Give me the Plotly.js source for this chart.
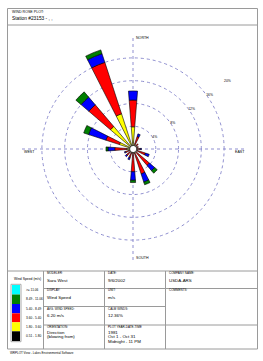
<!DOCTYPE html>
<html><head><meta charset="utf-8">
<script src="https://cdn.plot.ly/plotly-3.0.1.min.js"></script>
<style>html,body{margin:0;padding:0;background:#fff}#chart{width:263px;height:361px}</style>
</head><body><div id="chart"></div>
<script>
// ---- data (percent frequency, direction blowing from) ----
const directionNames = ['N','NNE','NE','ENE','E','ESE','SE','SSE','S','SSW','SW','WSW','W','WNW','NW','NNW'];
const directionDegrees = [0,22.5,45,67.5,90,112.5,135,157.5,180,202.5,225,247.5,270,292.5,315,337.5];
const speedClassLabels = ['0.51 - 1.80','1.80 - 3.60','3.60 - 5.40','5.40 - 8.49','8.49 - 11.06','>= 11.06'];
const freq_0_51_1_80  = [0.3,0.3,0.3,0.3,0.3,0.3,0.3,0.3,0.3,0.3,0.3,0.3,0.3,0.3,0.3,0.3];
const freq_1_80_3_60  = [3.6,0.6,0.4,0.3,0.4,0.5,0.5,0.5,0.4,0.4,0.4,0.4,0.8,2.2,4.9,6.2];
const freq_3_60_5_40  = [4.7,1.4,0.5,0.4,0.6,1.5,3.0,3.8,3.3,0.9,0.8,0.7,2.1,2.5,5.0,9.5];
const freq_5_40_8_49  = [1.6,0.5,0.0,0.0,0.2,0.7,1.2,1.5,1.5,0.4,0.3,0.2,1.2,3.2,1.8,1.6];
const freq_8_49_11_06 = [0.0,0.0,0.0,0.0,0.0,0.0,0.6,0.5,0.4,0.0,0.0,0.0,0.35,0.9,1.2,0.7];
const freq_ge_11_06   = [0,0,0,0,0,0,0,0,0,0,0,0,0,0,0,0];
const radialTickValues = [4,8,12,16,20];
const radialTickLabels = ['4%','8%','12%','16%','20%'];

// ---- styles ----
const classColors = ['#000000','#ffff00','#ff0000','#0000ff','#008000','#00ffff'];
const seriesList = [freq_0_51_1_80,freq_1_80_3_60,freq_3_60_5_40,freq_5_40_8_49,freq_8_49_11_06,freq_ge_11_06];

const W = 263, H = 361;
const px = x => x / W;
const py = y => 1 - y / H;
const FONT = 'Liberation Sans, Arial, sans-serif';
const GRID = '#8f8fd0';

const traces = seriesList.map((vals, i) => ({
  type: 'barpolar',
  r: vals,
  theta: directionDegrees,
  name: speedClassLabels[i],
  width: 9,
  marker: {color: classColors[i], line: {color: '#000', width: 0.6}},
  showlegend: false,
  hoverinfo: 'skip'
}));

const shapes = [];
const annotations = [];
function line(x0,y0,x1,y1,color,w){shapes.push({type:'line',xref:'paper',yref:'paper',x0:px(x0),y0:py(y0),x1:px(x1),y1:py(y1),line:{color:color||'#9a9a9a',width:w||1}});}
function text(t,x,y,size,opts){annotations.push(Object.assign({text:t,xref:'paper',yref:'paper',x:px(x),y:py(y),xanchor:'left',yanchor:'middle',showarrow:false,font:{family:FONT,size:size,color:'#000'}},opts||{}));}

// frame
shapes.push({type:'rect',xref:'paper',yref:'paper',x0:px(7.5),y0:py(8.5),x1:px(257.5),y1:py(349),line:{color:'#9a9a9a',width:1}});
line(7.5,25,257.5,25);
line(7.5,271,257.5,271);
line(43.5,271,43.5,349);
line(104.5,271,104.5,349);
line(165.5,271,165.5,349);
line(43.5,288.5,257.5,288.5);
line(43.5,306.5,165.5,306.5);
line(43.5,325,257.5,325);

// header
text('WIND ROSE PLOT:',10,12,3.6);
text('Station #23153 - , ,',10,18.7,4.8);

// calm circle
shapes.push({type:'circle',xref:'paper',yref:'paper',x0:px(129.6),y0:py(145.4),x1:px(136.8),y1:py(152.6),fillcolor:'#fff',line:{color:'#000',width:0.7}});

// cardinal labels
text('NORTH',133.5,37.5,3.6);
text('SOUTH',133.5,258,3.6);
text('WEST',21.5,151.5,3.6);
text('EAST',232.5,151.5,3.6);

// legend column
text('Wind Speed (m/s)',12,279,3.4);
const boxTops = [285,294.5,304,313.3,322.3,331.3,341];
const legendOrder = [5,4,3,2,1,0];
shapes.push({type:'rect',xref:'paper',yref:'paper',x0:px(11),y0:py(284.3),x1:px(21),y1:py(341.7),line:{color:'#aaaaaa',width:1}});
legendOrder.forEach((ci,k)=>{
  shapes.push({type:'rect',xref:'paper',yref:'paper',x0:px(12),y0:py(boxTops[k]),x1:px(20),y1:py(boxTops[k+1]),fillcolor:classColors[ci],line:{width:0}});
  text(speedClassLabels[ci],24,(boxTops[k]+boxTops[k+1])/2,3.2);
});

// table cells
const LS = 3.0, VS = 4.4;
text('MODELER:',45,272.8,LS); text('Sara West',45,280,VS);
text('DATE:',106,272.8,LS); text('9/6/2002',106,280,VS);
text('COMPANY NAME:',167,272.8,LS); text('USDA-ARS',167,280,VS);
text('DISPLAY:',45,290.3,LS); text('Wind Speed',45,297.6,VS);
text('UNIT:',106,290.3,LS); text('m/s',106,297.6,VS);
text('COMMENTS:',167,290.3,LS);
text('AVG. WIND SPEED:',45,308.5,LS); text('6.20 m/s',45,315.7,VS);
text('CALM WINDS:',106,308.5,LS); text('12.36%',106,315.7,VS);
text('ORIENTATION:',45,326.8,LS); text('Direction',45,332,VS); text('(blowing from)',45,336.8,VS);
text('PLOT YEAR-DATE-TIME',106,326.8,LS); text('1981',106,332,VS); text('Oct 1 - Oct 31',106,336.8,VS); text('Midnight - 11 PM',106,341.4,VS);

// footer
text('WRPLOT View - Lakes Environmental Software',8,352.5,3.0);

const layout = {
  width: W, height: H,
  margin: {l:0,r:0,t:0,b:0},
  paper_bgcolor: '#fff',
  showlegend: false,
  polar: {
    domain: {x:[px(19), px(247)], y:[py(263), py(35)]},
    bgcolor: 'rgba(0,0,0,0)',
    barmode: 'stack',
    radialaxis: {
      range: [0, 20.02], tickvals: radialTickValues, ticktext: radialTickLabels,
      angle: 38, showline: false, ticks: '', tickangle: 38,
      tickfont: {family: FONT, size: 3.4, color: '#000'},
      gridcolor: GRID, griddash: 'dot', gridwidth: 1
    },
    angularaxis: {
      rotation: 90, direction: 'clockwise',
      tickmode: 'array', tickvals: [0,90,180,270],
      showticklabels: false, ticks: '', showline: false,
      gridcolor: GRID, griddash: 'dot', gridwidth: 1
    }
  },
  shapes: shapes,
  annotations: annotations
};

Plotly.newPlot('chart', traces, layout, {staticPlot: true, displayModeBar: false});
</script>
</body></html>
